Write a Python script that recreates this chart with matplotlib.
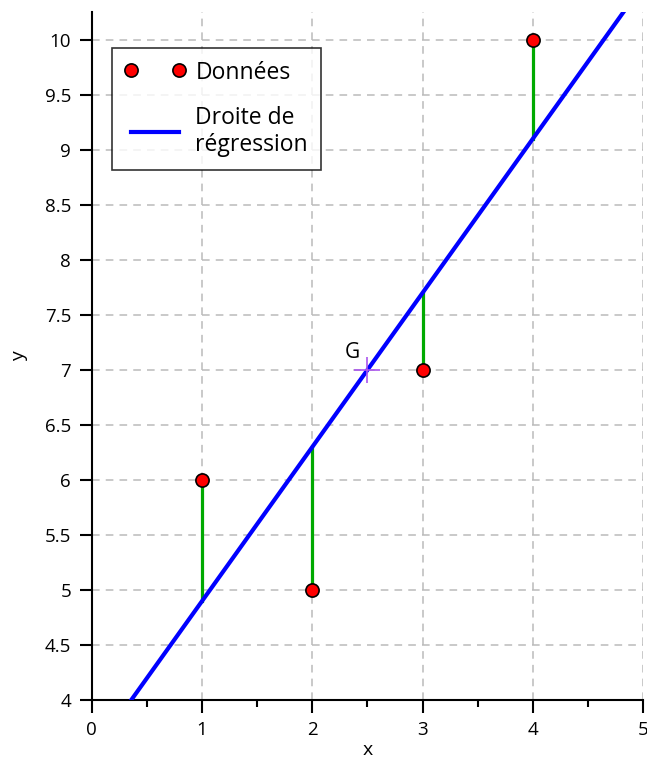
import numpy as np
import matplotlib.pyplot as plt
from matplotlib.ticker import MultipleLocator

plt.rcParams['font.family'] = ['Open Sans', 'DejaVu Sans']

x_data = [1, 2, 3, 4]
y_data = [6, 5, 7, 10]
g_point = (2.5, 7.0)
slope, intercept = 1.4, 3.5

fig = plt.figure(figsize=(6.47, 7.58), dpi=100)
ax = fig.add_axes([0.142, 0.0765, 0.852, 0.9075])

ax.set_xlim(0, 5)
ax.set_ylim(4, 10.25)
ax.xaxis.set_major_locator(MultipleLocator(1))
ax.xaxis.set_minor_locator(MultipleLocator(0.5))
ax.yaxis.set_major_locator(MultipleLocator(0.5))
ax.grid(True, which='major', color='#bbbbbb', linestyle=(0, (5, 4)), linewidth=1.1)
ax.set_axisbelow(True)

for s in ['top', 'right']:
    ax.spines[s].set_visible(False)
for s in ['left', 'bottom']:
    ax.spines[s].set_linewidth(1.5)
ax.tick_params(which='major', length=9, width=1.5, labelsize=13.5, pad=6)
ax.tick_params(which='minor', length=5, width=1.5)
ax.set_yticklabels([('%g' % v) for v in ax.get_yticks()])

# residuals
for xi, yi in zip(x_data, y_data):
    ax.plot([xi, xi], [yi, slope * xi + intercept], color='#00aa00', lw=2.3, zorder=3)

xs = np.array([0.0, 5.0])
ax.plot(xs, slope * xs + intercept, color='#0000ff', lw=3, zorder=4, label='Droite de\nrégression')
ax.plot(x_data, y_data, 'o', color='red', mec='black', mew=1.2, ms=9.5, zorder=5, label='Données')
ax.plot(*g_point, '+', color='#aa55ee', ms=19, mew=1.2, zorder=6)
ax.text(2.43, 7.06, 'G', fontsize=15, ha='right', va='bottom')

h, l = ax.get_legend_handles_labels()
leg = ax.legend(h[::-1], l[::-1], loc='upper left', bbox_to_anchor=(0.036, 0.948), numpoints=2,
                fontsize=16.5, frameon=True, fancybox=False, edgecolor='black', handlelength=2.7,
                borderpad=0.55, labelspacing=0.92, handletextpad=0.4, borderaxespad=0)
leg.get_frame().set_linewidth(1.2)

ax.set_xlabel('x', fontsize=14)
ax.set_ylabel('y', fontsize=14)
ax.xaxis.label.set_va('center')
ax.yaxis.label.set_va('center')
ax.xaxis.set_label_coords(0.5, -0.073)
ax.yaxis.set_label_coords(-0.133, 0.5)

fig.savefig('out.png', dpi=100)
